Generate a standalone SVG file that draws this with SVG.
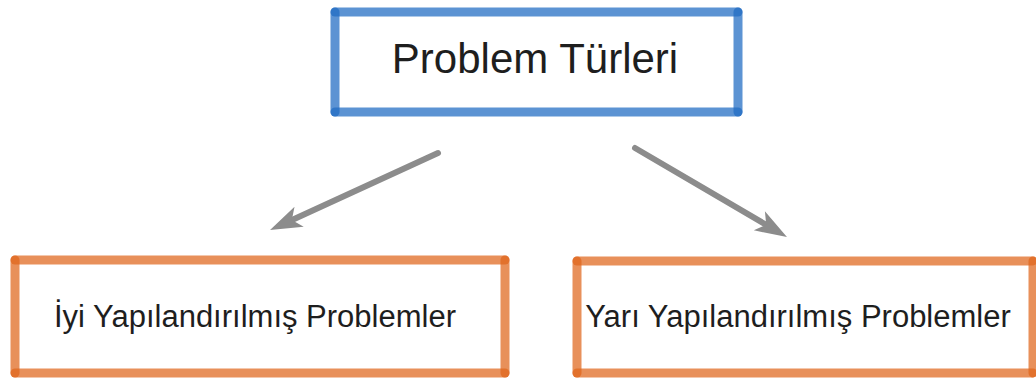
<svg xmlns="http://www.w3.org/2000/svg" width="1036" height="385" viewBox="0 0 1036 385">
  <style>
    .edge { stroke-width: 9; stroke-linecap: round; fill: none; }
    .blue .edge { stroke: #1f6bc3; stroke-opacity: 0.73; }
    .orange .edge { stroke: #df651a; stroke-opacity: 0.72; }
    .label { font-family: "Liberation Sans", Arial, sans-serif; fill: #1e1e1e; text-anchor: middle; }
    .conn { stroke: #8c8c8c; stroke-width: 6; stroke-linecap: round; fill: none; marker-end: url(#head); }
  </style>
  <defs>
    <marker id="head" markerUnits="userSpaceOnUse" viewBox="-34 -13 36 26" markerWidth="36" markerHeight="26" refX="-20" refY="0" orient="auto">
      <path d="M0,0 L-32,-11 L-24,0 L-32,11 Z" fill="#8c8c8c"/>
    </marker>
  </defs>
  <rect width="1036" height="385" fill="#ffffff"/>

  <g id="connectors">
    <line class="conn" x1="438" y1="153" x2="288.2" y2="221.7"/>
    <line class="conn" x1="635" y1="148" x2="769.7" y2="226.9"/>
  </g>

  <g id="problem-turleri" class="blue">
    <line class="edge" x1="335" y1="12" x2="738" y2="12"/>
    <line class="edge" x1="738" y1="12" x2="738" y2="112"/>
    <line class="edge" x1="738" y1="112" x2="335" y2="112"/>
    <line class="edge" x1="335" y1="112" x2="335" y2="12"/>
    <text class="label" x="535" y="73" font-size="42">Problem Türleri</text>
  </g>

  <g id="iyi-yapilandirilmis" class="orange">
    <line class="edge" x1="15" y1="260" x2="505" y2="260"/>
    <line class="edge" x1="505" y1="260" x2="505" y2="373"/>
    <line class="edge" x1="505" y1="373" x2="15" y2="373"/>
    <line class="edge" x1="15" y1="373" x2="15" y2="260"/>
    <text class="label" x="255" y="327" font-size="31">İyi Yapılandırılmış Problemler</text>
  </g>

  <g id="yari-yapilandirilmis" class="orange">
    <line class="edge" x1="577" y1="261" x2="1033" y2="261"/>
    <line class="edge" x1="1033" y1="261" x2="1033" y2="373"/>
    <line class="edge" x1="1033" y1="373" x2="577" y2="373"/>
    <line class="edge" x1="577" y1="373" x2="577" y2="261"/>
    <text class="label" x="798" y="327" font-size="31">Yarı Yapılandırılmış Problemler</text>
  </g>
</svg>
